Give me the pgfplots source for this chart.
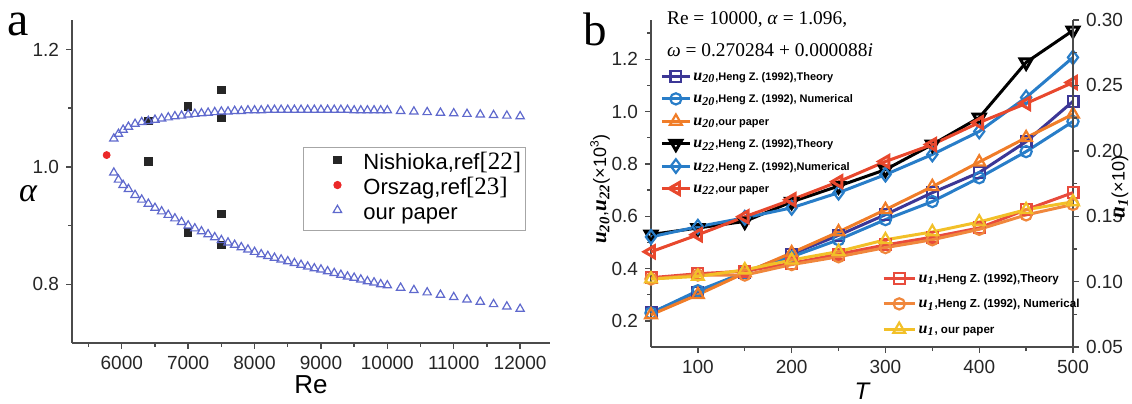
\documentclass[border=0pt]{standalone}
\usepackage{fontspec}
\setmainfont{Liberation Sans}
\newfontfamily\serif{Liberation Serif}
\usepackage{pgfplots}
\pgfplotsset{compat=1.18}
\definecolor{axisgray}{RGB}{75,75,75}
\definecolor{cTh}{RGB}{60,55,150}
\definecolor{cNum}{RGB}{40,125,200}
\definecolor{cOr}{RGB}{240,125,40}
\definecolor{cRd}{RGB}{232,72,45}
\definecolor{cOneT}{RGB}{232,75,60}
\definecolor{cOneN}{RGB}{240,135,60}
\definecolor{cOneO}{RGB}{242,192,40}
\definecolor{triblue}{RGB}{95,105,205}
\definecolor{dotred}{RGB}{235,40,40}
\newcommand\U[1]{{\serif\bfseries\itshape\fontsize{8}{8}\selectfont u\textsubscript{#1}}}
\newcommand\UL[1]{{\serif\bfseries\itshape\fontsize{10.5}{10}\selectfont u\textsubscript{#1}}}
\begin{document}
\begin{tikzpicture}
\useasboundingbox (0pt,0pt) rectangle (566pt,-201.5pt);
% ---------------- panel a ----------------
\begin{axis}[
  at={(36pt,-10pt)}, anchor=north west,
  scale only axis, width=239pt, height=161.5pt,
  xmin=5250, xmax=12450, ymin=0.7, ymax=1.25,
  scaled x ticks=false, scaled y ticks=false,
  axis x line*=bottom, axis y line*=left,
  axis line style={-, draw=axisgray, line width=0.8pt},
  xtick={6000,7000,8000,9000,10000,11000,12000},
  xticklabels={6000,7000,8000,9000,10000,11000,12000},
  minor xtick={5500,6500,7500,8500,9500,10500,11500},
  ytick={0.8,1.0,1.2}, yticklabels={0.8,1.0,1.2},
  minor ytick={0.9,1.1},
  tick align=outside, major tick length=3pt, minor tick length=2pt,
  every tick/.style={draw=axisgray, line width=0.7pt},
  tick label style={font=\fontsize{9.5}{10}\selectfont, text=black!85},
  clip=false,
  legend style={at={(0.483,0.607)}, anchor=north west, draw=gray!70, line width=0.6pt,
    fill=white, font=\fontsize{11}{12}\selectfont, inner xsep=2pt, inner ysep=3pt,
    row sep=2pt, nodes={inner sep=0pt, text height=8pt, text depth=2.5pt}},
  legend cell align=left,
  legend image code/.code={\path[draw=none, fill=none] (-15pt,-1pt) rectangle (13pt,1pt); \draw[#1, yshift=2pt] plot coordinates {(0pt,0pt)};},
]
\addplot[only marks, mark=square*, mark size=1.85pt, color=black!85] coordinates {
 (6400,1.078) (6400,1.009) (7000,1.103) (7500,1.131) (7500,1.083)
 (7000,0.888) (7500,0.920) (7500,0.867)};
\addlegendentry{Nishioka,ref{\serif\fontsize{12.5}{12}\selectfont[22]}}
\addplot[only marks, mark=*, mark size=1.75pt, color=dotred] coordinates {(5772,1.02)};
\addlegendentry{Orszag,ref{\serif\fontsize{12.5}{12}\selectfont[23]}}
\addplot[only marks, mark=triangle, mark size=2.4pt, color=triblue, mark options={line width=0.6pt}] coordinates {
 (5880,1.048) (5950,1.056) (6020,1.063) (6100,1.068) (6200,1.073) (6300,1.076) (6400,1.078)
 (6500,1.080) (6600,1.082) (6700,1.084) (6800,1.086) (6900,1.087) (7000,1.089) (7100,1.090)
 (7200,1.091) (7300,1.092) (7400,1.093) (7500,1.094) (7600,1.094) (7700,1.095) (7800,1.095)
 (7900,1.096) (8000,1.096) (8100,1.096) (8200,1.097) (8300,1.097) (8400,1.097) (8500,1.097)
 (8600,1.097) (8700,1.097) (8800,1.097) (8900,1.097) (9000,1.097) (9100,1.097) (9200,1.097)
 (9300,1.097) (9400,1.097) (9500,1.096) (9600,1.096) (9700,1.096) (9800,1.096) (9900,1.096)
 (10000,1.096) (10200,1.095) (10400,1.094) (10600,1.093) (10800,1.092) (11000,1.091)
 (11200,1.090) (11400,1.089) (11600,1.088) (11800,1.087) (12000,1.086)};
\addlegendentry{our paper}
\addplot[only marks, mark=triangle, mark size=2.4pt, color=triblue, mark options={line width=0.6pt}, forget plot] coordinates {
 (5880,0.990) (5950,0.978) (6020,0.969) (6100,0.962) (6200,0.952) (6300,0.944) (6400,0.937)
 (6500,0.930) (6600,0.924) (6700,0.918) (6800,0.912) (6900,0.906) (7000,0.900) (7100,0.895)
 (7200,0.890) (7300,0.885) (7400,0.880) (7500,0.875) (7600,0.871) (7700,0.867) (7800,0.863)
 (7900,0.859) (8000,0.855) (8100,0.851) (8200,0.848) (8300,0.845) (8400,0.842) (8500,0.839)
 (8600,0.836) (8700,0.833) (8800,0.830) (8900,0.827) (9000,0.825) (9100,0.822) (9200,0.819)
 (9300,0.816) (9400,0.813) (9500,0.811) (9600,0.808) (9700,0.805) (9800,0.803) (9900,0.800)
 (10000,0.798) (10200,0.794) (10400,0.790) (10600,0.786) (10800,0.782) (11000,0.778)
 (11200,0.774) (11400,0.770) (11600,0.766) (11800,0.762) (12000,0.758)};
\end{axis}
\node[anchor=base, font=\serif\fontsize{24}{24}\selectfont] at (9pt,-17.5pt) {a};
\node[font=\serif\itshape\fontsize{17}{17}\selectfont] at (14pt,-97pt) {α};
\node[font=\fontsize{13}{14}\selectfont] at (155.5pt,-192.5pt) {Re};
% ---------------- panel b, left axis ----------------
\begin{axis}[
  at={(325.5pt,-10pt)}, anchor=north west,
  scale only axis, width=211pt, height=163.5pt,
  xmin=50, xmax=500, ymin=0.1, ymax=1.35,
  axis x line*=bottom, axis y line*=left,
  axis line style={-, draw=axisgray, line width=0.8pt},
  xtick={100,200,300,400,500}, xticklabels={100,200,300,400,500},
  minor xtick={150,250,350,450},
  ytick={0.2,0.4,0.6,0.8,1.0,1.2}, yticklabels={0.2,0.4,0.6,0.8,1.0,1.2},
  minor ytick={0.3,0.5,0.7,0.9,1.1,1.3},
  tick align=outside, major tick length=3pt, minor tick length=2pt,
  every tick/.style={draw=axisgray, line width=0.7pt},
  tick label style={font=\fontsize{9.5}{10}\selectfont, text=black!85},
  clip=false,
  every axis plot/.append style={line width=1.5pt, mark options={solid, fill=white, line width=1.1pt}},
  legend style={at={(0.0213,0.853)}, anchor=north west, draw=none, fill=none,
    font=\bfseries\fontsize{5.5}{6}\selectfont, inner sep=0pt, row sep=3.2pt,
    nodes={inner xsep=1pt, inner ysep=0pt, text height=6pt, text depth=2pt}},
  legend cell align=left,
  legend image code/.code={\draw[mark repeat=2,mark phase=2,#1] plot coordinates {(0pt,0pt) (7pt,0pt) (14pt,0pt)};},
]
\addplot[color=cTh, mark=square, mark size=2.7pt] coordinates {
 (50,0.230) (100,0.310) (150,0.385) (200,0.455) (250,0.527) (300,0.606) (350,0.690) (400,0.767) (450,0.885) (500,1.039)};
\addlegendentry{\U{20},Heng Z. (1992),Theory}
\addplot[color=cNum, mark=o, mark size=2.8pt] coordinates {
 (50,0.230) (100,0.315) (150,0.385) (200,0.445) (250,0.510) (300,0.587) (350,0.656) (400,0.747) (450,0.847) (500,0.962)};
\addlegendentry{\U{20},Heng Z. (1992), Numerical}
\addplot[color=cOr, mark=triangle, mark size=3.4pt] coordinates {
 (50,0.223) (100,0.300) (150,0.383) (200,0.460) (250,0.540) (300,0.625) (350,0.713) (400,0.807) (450,0.900) (500,0.990)};
\addlegendentry{\U{20},our paper}
\addplot[color=black, mark=triangle, mark size=3.4pt, mark options={rotate=180}] coordinates {
 (50,0.530) (100,0.555) (150,0.580) (200,0.655) (250,0.715) (300,0.778) (350,0.874) (400,0.977) (450,1.188) (500,1.310)};
\addlegendentry{\U{22},Heng Z. (1992),Theory}
\addplot[color=cNum, mark=diamond, mark size=3.4pt] coordinates {
 (50,0.521) (100,0.560) (150,0.594) (200,0.632) (250,0.690) (300,0.759) (350,0.836) (400,0.924) (450,1.054) (500,1.207)};
\addlegendentry{\U{22},Heng Z. (1992),Numerical}
\addplot[color=cRd, mark=triangle, mark size=3.4pt, mark options={rotate=90}] coordinates {
 (50,0.464) (100,0.529) (150,0.598) (200,0.663) (250,0.732) (300,0.809) (350,0.874) (400,0.958) (450,1.031) (500,1.111)};
\addlegendentry{\U{22},our paper}
\end{axis}
% ---------------- panel b, right axis ----------------
\begin{axis}[
  at={(325.5pt,-10pt)}, anchor=north west,
  scale only axis, width=211pt, height=163.5pt,
  xmin=50, xmax=500, ymin=0.05, ymax=0.30,
  axis x line=none, axis y line*=right,
  axis line style={-, draw=axisgray, line width=0.8pt},
  ytick={0.05,0.10,0.15,0.20,0.25,0.30}, yticklabels={0.05,0.10,0.15,0.20,0.25,0.30},
  minor ytick={0.075,0.125,0.175,0.225,0.275},
  tick align=outside, major tick length=3pt, minor tick length=2pt,
  every tick/.style={draw=axisgray, line width=0.7pt},
  tick label style={font=\fontsize{9.5}{10}\selectfont, text=black!85},
  clip=false,
  every axis plot/.append style={line width=1.5pt, mark options={solid, fill=white, line width=1.1pt}},
  legend style={at={(0.547,0.2355)}, anchor=north west, draw=none, fill=none,
    font=\bfseries\fontsize{5.8}{6}\selectfont, inner sep=0pt, row sep=4.75pt,
    nodes={inner xsep=1.2pt, inner ysep=0pt, text height=6pt, text depth=2pt}},
  legend cell align=left,
  legend image code/.code={\draw[mark repeat=2,mark phase=2,#1] plot coordinates {(0pt,0pt) (7.75pt,0pt) (15.5pt,0pt)};},
]
\addplot[color=cOneT, mark=square, mark size=2.7pt] coordinates {
 (50,0.103) (100,0.106) (150,0.108) (200,0.114) (250,0.121) (300,0.128) (350,0.134) (400,0.141) (450,0.155) (500,0.168)};
\addlegendentry{\U{1},Heng Z. (1992),Theory}
\addplot[color=cOneN, mark=o, mark size=2.8pt] coordinates {
 (50,0.102) (100,0.105) (150,0.105) (200,0.113) (250,0.119) (300,0.126) (350,0.132) (400,0.140) (450,0.151) (500,0.159)};
\addlegendentry{\U{1},Heng Z. (1992), Numerical}
\addplot[color=cOneO, mark=triangle, mark size=3.4pt] coordinates {
 (50,0.102) (100,0.104) (150,0.109) (200,0.1165) (250,0.123) (300,0.132) (350,0.138) (400,0.1456) (450,0.155) (500,0.161)};
\addlegendentry{\U{1}, our paper}
\end{axis}
\node[anchor=base, font=\serif\fontsize{23.5}{24}\selectfont] at (297.5pt,-22.5pt) {b};
\node[anchor=west, font=\serif\fontsize{9.7}{10}\selectfont] at (330pt,-10pt) {Re = 10000, \textit{α} = 1.096,};
\node[anchor=west, font=\serif\fontsize{9.7}{10}\selectfont] at (330pt,-25pt) {\textit{ω} = 0.270284 + 0.000088\textit{i}};
\node[rotate=90, font=\fontsize{9}{10}\selectfont] at (300pt,-94.5pt) {\UL{20},\UL{22}(×10\textsuperscript{3})};
\node[rotate=90, font=\fontsize{9}{10}\selectfont] at (560pt,-93.5pt) {\UL{1}(×10)};
\node[font=\itshape\fontsize{12}{12}\selectfont] at (431pt,-195.5pt) {T};
\end{tikzpicture}
\end{document}
